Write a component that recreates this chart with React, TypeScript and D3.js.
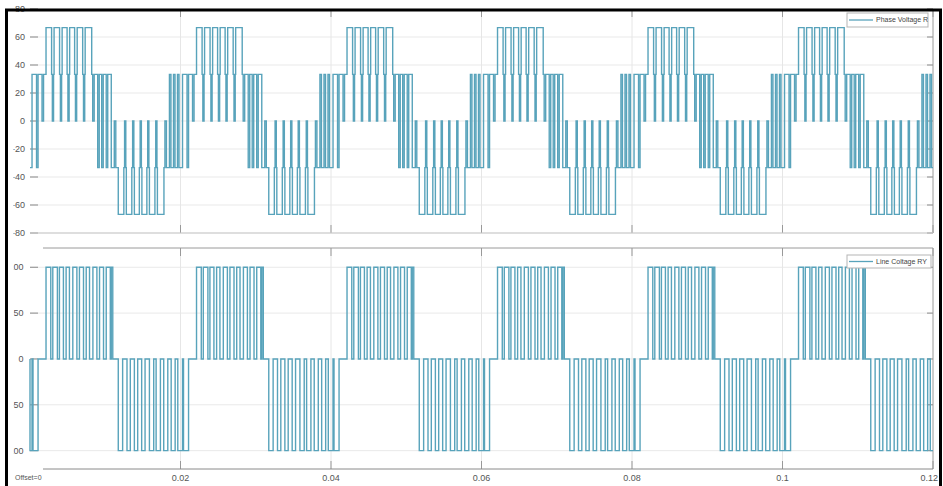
import React from 'react';
import * as d3 from 'd3';

// one 20 ms cycle of each waveform (ms in cycle, level in V)
const cycleStarts = [0, 0.02, 0.04, 0.06, 0.08, 0.1];

const phaseTimesMs = [
  0.0, 0.27, 0.87, 1.07, 1.6, 1.8, 2.13, 2.87, 2.97, 3.13, 3.2, 3.93, 4.04, 4.2, 4.27,
  4.93, 5.04, 5.2, 5.27, 5.93, 6.04, 6.2, 6.27, 7.0, 7.11, 7.27, 7.33, 8.2, 8.33, 8.53,
  9.0, 9.2, 9.53, 9.73, 10.13, 10.33, 10.8, 11.2, 11.4, 11.73, 12.47, 12.57, 12.73, 12.8,
  13.53, 13.64, 13.8, 13.87, 14.53, 14.64, 14.8, 14.87, 15.53, 15.64, 15.8, 15.87, 16.6,
  16.71, 16.87, 16.93, 17.8, 17.93, 18.13, 18.53, 18.73, 19.07, 19.27, 19.6, 19.8,
];
const phaseLevels = [
  -33.3, 33.3, -33.3, 33.3, 0, 33.3, 66.7, 33.3, 0, 33.3, 66.7, 33.3, 0, 33.3, 66.7,
  33.3, 0, 33.3, 66.7, 33.3, 0, 33.3, 66.7, 33.3, 0, 33.3, 66.7, 33.3, 0, 33.3,
  -33.3, 33.3, -33.3, 33.3, -33.3, 33.3, -33.3, 0, -33.3, -66.7, -33.3, 0, -33.3, -66.7,
  -33.3, 0, -33.3, -66.7, -33.3, 0, -33.3, -66.7, -33.3, 0, -33.3, -66.7, -33.3,
  0, -33.3, -66.7, -33.3, 0, -33.3, 33.3, -33.3, 33.3, -33.3, 33.3, -33.3,
];

const lineTimesMs = [
  0.0, 0.27, 0.4, 1.07, 2.13, 2.76, 3.03, 3.64, 3.91, 4.44, 4.8, 5.24, 5.69, 6.23, 6.57,
  7.11, 7.47, 7.91, 8.36, 8.89, 9.24, 9.77, 10.13, 10.67, 10.8, 11.0, 11.73, 12.31, 12.89,
  13.33, 13.87, 14.31, 14.84, 15.29, 15.87, 16.44, 16.76, 17.33, 17.77, 18.31, 18.76,
  19.29, 19.64,
];
const lineLevels = [
  -100, 0, -100, 0, 100, 0, 100, 0, 100, 0, 100, 0, 100, 0, 100,
  0, 100, 0, 100, 0, 100, 0, 100, 0, 100, 0, -100, 0, -100,
  0, -100, 0, -100, 0, -100, 0, -100, 0, -100, 0, -100,
  0, -100,
];

const xTicks = [0.02, 0.04, 0.06, 0.08, 0.1, 0.12];
const xTickLabels = ['0.02', '0.04', '0.06', '0.08', '0.1', '0.12'];
const phaseTicks = [80, 60, 40, 20, 0, -20, -40, -60, -80];
const lineTicks = [100, 50, 0, -50, -100];

const W = 943;
const H = 486;
const waveColor = '#58a3bb';
const font = '"Liberation Sans", Arial, sans-serif';

const x = d3.scaleLinear().domain([0, 0.12]).range([30, 933]);

function tile(times: number[], levels: number[], startLevel: number) {
  const pts: [number, number][] = [[0, startLevel]];
  cycleStarts.forEach((c) => {
    times.forEach((t, i) => pts.push([c + t / 1000, levels[i]]));
  });
  const kept = pts.filter((p) => p[0] <= 0.12);
  kept.push([0.12, kept[kept.length - 1][1]]);
  return kept;
}

function Panel({ y, ticks, data, top, bottom, legend, legendBox, labelX }: any) {
  const line = d3
    .line<[number, number]>()
    .x((d) => x(d[0]))
    .y((d) => y(d[1]))
    .curve(d3.curveStepAfter);
  return (
    <g>
      {/* grid */}
      {ticks.map((t: number) => (
        <line key={'g' + t} x1={30} x2={933} y1={y(t)} y2={y(t)} stroke="#e9e9e9" strokeWidth={1} />
      ))}
      {xTicks.slice(0, -1).map((t) => (
        <line key={'v' + t} x1={x(t)} x2={x(t)} y1={top} y2={bottom} stroke="#e6e6e6" strokeWidth={1} />
      ))}
      {/* ticks */}
      {ticks.map((t: number) => (
        <g key={'t' + t}>
          <line x1={30} x2={38} y1={y(t)} y2={y(t)} stroke="#8a8a8a" strokeWidth={1} />
          <line x1={927} x2={933} y1={y(t)} y2={y(t)} stroke="#8a8a8a" strokeWidth={1} />
          <text
            x={labelX}
            y={y(t)}
            dy="0.35em"
            textAnchor="end"
            fontSize={9}
            fontFamily={font}
            fill="#555"
            clipPath="url(#labelClip)"
          >
            {t}
          </text>
        </g>
      ))}
      {xTicks.map((t) => (
        <g key={'xt' + t}>
          <line x1={x(t)} x2={x(t)} y1={bottom} y2={bottom - 8} stroke="#999" strokeWidth={1} />
          <line x1={x(t)} x2={x(t)} y1={top} y2={top + 8} stroke="#999" strokeWidth={1} />
        </g>
      ))}
      <line x1={933} x2={933} y1={top} y2={bottom} stroke="#9a9a9a" strokeWidth={1} />
      <path d={line(data) || ''} fill="none" stroke={waveColor} strokeWidth={1.4} />
      {/* legend */}
      <rect
        x={legendBox[0]}
        y={legendBox[1]}
        width={legendBox[2]}
        height={legendBox[3]}
        fill="#fff"
        stroke="#b5b5b5"
        strokeWidth={1}
      />
      <line
        x1={legendBox[0] + 2}
        x2={legendBox[0] + 26}
        y1={legendBox[1] + legendBox[3] / 2}
        y2={legendBox[1] + legendBox[3] / 2}
        stroke={waveColor}
        strokeWidth={1.3}
      />
      <text
        x={legendBox[0] + 29}
        y={legendBox[1] + legendBox[3] / 2}
        dy="0.35em"
        fontSize={7}
        fontFamily={font}
        fill="#444"
      >
        {legend}
      </text>
    </g>
  );
}

export default function App() {
  const yPhase = d3.scaleLinear().domain([-80, 80]).range([233, 9]);
  const yLine = d3.scaleLinear().domain([-120, 121]).range([469, 248]);
  const phaseData = tile(phaseTimesMs, phaseLevels, -33.3);
  const lineData = tile(lineTimesMs, lineLevels, 0);

  return (
    <svg
      width={W}
      height={H}
      style={{ position: 'absolute', left: 0, top: 0, background: '#fff' }}
    >
      <defs>
        <clipPath id="labelClip">
          <rect x={13.5} y={0} width={40} height={H} />
        </clipPath>
      </defs>
      <Panel
        y={yPhase}
        ticks={phaseTicks}
        data={phaseData}
        top={9}
        bottom={233}
        legend="Phase Voltage R"
        legendBox={[847, 13, 81, 14]}
        labelX={25}
      />
      <line x1={30} x2={933} y1={233} y2={233} stroke="#c8c8c8" strokeWidth={1} />
      <Panel
        y={yLine}
        ticks={lineTicks}
        data={lineData}
        top={248}
        bottom={469}
        legend="Line Coltage RY"
        legendBox={[847, 255, 84, 13]}
        labelX={23.5}
      />
      <line x1={43} x2={933} y1={248} y2={248} stroke="#9a9a9a" strokeWidth={1} />
      <line x1={43} x2={933} y1={469} y2={469} stroke="#8a8a8a" strokeWidth={1} />
      {xTicks.map((t, i) => (
        <text
          key={t}
          x={i === xTicks.length - 1 ? 938 : x(t)}
          y={481}
          textAnchor={i === xTicks.length - 1 ? 'end' : 'middle'}
          fontSize={9}
          fontFamily={font}
          fill="#555"
        >
          {xTickLabels[i]}
        </text>
      ))}
      <text x={15} y={480} fontSize={7} fontFamily={font} fill="#555">
        Offset=0
      </text>
      {/* outer black frame */}
      <rect x={6.5} y={10} width={934} height={500} fill="none" stroke="#000" strokeWidth={3} />
    </svg>
  );
}
